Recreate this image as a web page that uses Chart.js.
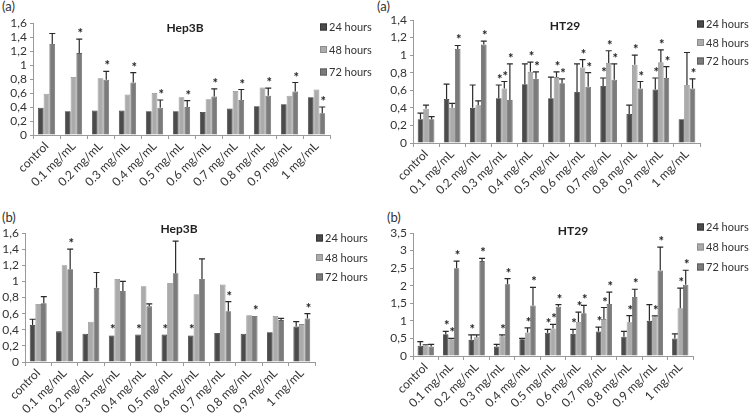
<!DOCTYPE html>
<html>
<head>
<meta charset="utf-8">
<script src="https://cdn.jsdelivr.net/npm/chart.js@4.4.1/dist/chart.umd.min.js"></script>
<style>
  body { margin: 0; background: #fff; width: 751px; height: 413px; position: relative; overflow: hidden; }
  canvas { position: absolute; }
  .tag { position: absolute; font: 13px "Lato", sans-serif; color: #333; line-height: 13px; }
</style>
</head>
<body>
<div class="tag" style="left:2px;top:0px">(a)</div>
<div class="tag" style="left:377px;top:0px">(a)</div>
<div class="tag" style="left:2px;top:211px">(b)</div>
<div class="tag" style="left:387px;top:211px">(b)</div>
<canvas id="hepA" width="375" height="200" style="left:0;top:0"></canvas>
<canvas id="htA" width="376" height="200" style="left:375px;top:0"></canvas>
<canvas id="hepB" width="375" height="213" style="left:0;top:200px"></canvas>
<canvas id="htB" width="376" height="213" style="left:375px;top:200px"></canvas>
<script>
// categories / legend
const categories = ["control", "0.1 mg/mL", "0.2 mg/mL", "0.3 mg/mL", "0.4 mg/mL", "0.5 mg/mL",
  "0.6 mg/mL", "0.7 mg/mL", "0.8 mg/mL", "0.9 mg/mL", "1 mg/mL"];
const seriesNames = ["24 hours", "48 hours", "72 hours"];

// tick labels
const hepTicks = ["0", "0,2", "0,4", "0,6", "0,8", "1", "1,2", "1,4", "1,6"];
const htATicks = ["0", "0,2", "0,4", "0,6", "0,8", "1", "1,2", "1,4"];
const htBTicks = ["0", "0,5", "1", "1,5", "2", "2,5", "3", "3,5"];

// (a) Hep3B
const hepA24 = [0.39, 0.34, 0.35, 0.35, 0.34, 0.34, 0.33, 0.38, 0.41, 0.44, 0.54];
const hepA48 = [0.59, 0.83, 0.81, 0.58, 0.60, 0.54, 0.51, 0.63, 0.68, 0.56, 0.65];
const hepA72 = [1.30, 1.17, 0.79, 0.75, 0.39, 0.40, 0.55, 0.50, 0.56, 0.62, 0.31];
const hepA72err = [0.15, 0.20, 0.12, 0.14, 0.11, 0.09, 0.11, 0.15, 0.11, 0.13, 0.09];
const hepA72star = [0, 1, 1, 1, 1, 1, 1, 1, 1, 1, 1];

// (a) HT29
const htA24 = [0.27, 0.50, 0.40, 0.51, 0.67, 0.51, 0.58, 0.65, 0.33, 0.61, 0.27];
const htA24err = [0.07, 0.17, 0.26, 0.15, 0.23, 0.24, 0.32, 0.09, 0.10, 0.13, null];
const htA48 = [0.39, 0.40, 0.43, 0.62, 0.81, 0.75, 0.86, 0.91, 0.89, 0.92, 0.66];
const htA48err = [0.04, 0.05, 0.05, 0.08, 0.11, 0.06, 0.09, 0.14, 0.11, 0.14, 0.37];
const htA72 = [0.27, 1.07, 1.12, 0.49, 0.73, 0.68, 0.64, 0.72, 0.62, 0.74, 0.62];
const htA72err = [0.03, 0.04, 0.04, 0.41, 0.08, 0.05, 0.16, 0.18, 0.08, 0.13, 0.11];
const htA24star = [0, 0, 0, 1, 0, 0, 0, 1, 0, 1, 0];
const htA48star = [0, 0, 0, 1, 1, 1, 1, 1, 1, 1, 0];
const htA72star = [0, 1, 1, 1, 1, 1, 1, 1, 1, 1, 1];

// (b) Hep3B
const hepB24 = [0.46, 0.38, 0.35, 0.33, 0.34, 0.34, 0.33, 0.36, 0.35, 0.37, 0.44];
const hepB24err = [0.07, null, null, null, null, null, null, null, null, null, 0.06];
const hepB48 = [0.72, 1.20, 0.50, 1.03, 0.94, 0.98, 0.84, 0.96, 0.58, 0.57, 0.47];
const hepB72 = [0.73, 1.15, 0.92, 0.88, 0.69, 1.10, 1.03, 0.63, 0.57, 0.52, 0.54];
const hepB72err = [0.08, 0.25, 0.19, 0.12, 0.03, 0.40, 0.25, 0.12, null, 0.02, 0.06];
const hepB24star = [0, 0, 0, 1, 1, 1, 1, 0, 0, 0, 0];
const hepB72star = [0, 1, 0, 0, 0, 0, 0, 1, 1, 0, 1];

// (b) HT29
const htB24 = [0.29, 0.62, 0.46, 0.27, 0.48, 0.66, 0.63, 0.70, 0.55, 1.00, 0.50];
const htB24err = [0.12, 0.08, 0.14, 0.06, 0.02, 0.10, 0.13, 0.12, 0.15, 0.46, 0.13];
const htB48 = [0.30, 0.48, 0.53, 0.56, 0.67, 0.78, 0.97, 1.05, 0.96, 1.12, 1.36];
const htB48err = [0.02, 0.02, 0.07, 0.04, 0.13, 0.12, 0.28, 0.33, 0.19, 0.02, 0.57];
const htB72 = [0.27, 2.50, 2.70, 2.04, 1.44, 1.40, 1.22, 1.48, 1.68, 2.43, 2.03];
const htB72err = [0.06, 0.20, 0.08, 0.16, 0.51, 0.06, 0.22, 0.34, 0.22, 0.67, 0.41];
const htB24star = [0, 1, 1, 0, 0, 1, 1, 1, 0, 0, 0];
const htB48star = [0, 1, 0, 1, 1, 1, 1, 1, 1, 1, 1];
const htB72star = [0, 1, 1, 1, 1, 1, 1, 1, 1, 1, 1];

const fills = ["#4b4b4b", "#ababab", "#7b7b7b"];
const edges = ["#353535", "#8e8e8e", "#5e5e5e"];
const FONT = "Lato, 'Open Sans', sans-serif";

// error bars + asterisks + legend + title, all drawn on the canvas
const extras = {
  id: "extras",
  afterDatasetsDraw(chart, args, opts) {
    const ctx = chart.ctx;
    const y = chart.scales.y;
    ctx.save();
    chart.data.datasets.forEach((ds, i) => {
      const meta = chart.getDatasetMeta(i);
      meta.data.forEach((bar, j) => {
        let top = bar.y;
        if (ds.err && ds.err[j] != null) {
          top = y.getPixelForValue(ds.data[j] + ds.err[j]);
          ctx.strokeStyle = "#2a2a2a";
          ctx.lineWidth = 1.2;
          ctx.beginPath();
          ctx.moveTo(bar.x, bar.y);
          ctx.lineTo(bar.x, top);
          ctx.moveTo(bar.x - 3, top);
          ctx.lineTo(bar.x + 3, top);
          ctx.stroke();
        }
        if (ds.star && ds.star[j]) {
          ctx.fillStyle = "#222";
          ctx.font = "bold 13px " + FONT;
          ctx.textAlign = "center";
          ctx.textBaseline = "alphabetic";
          ctx.fillText("*", bar.x + 1, top - 1);
        }
      });
    });
    // title
    ctx.fillStyle = "#222";
    ctx.font = "bold 12px " + FONT;
    ctx.textAlign = "center";
    ctx.textBaseline = "middle";
    ctx.fillText(opts.title, opts.tx, opts.ty);
    // legend
    ctx.font = "11px " + FONT;
    ctx.textAlign = "left";
    chart.data.datasets.forEach((ds, i) => {
      const cy = opts.ly + i * opts.gap;
      ctx.fillStyle = ds.backgroundColor;
      ctx.fillRect(opts.lx, cy - 3.5, 7, 7);
      ctx.strokeStyle = ds.borderColor;
      ctx.lineWidth = 1;
      ctx.strokeRect(opts.lx + 0.5, cy - 3, 6, 6);
      ctx.fillStyle = "#333";
      ctx.fillText(ds.label, opts.lx + 9, cy + 0.5);
    });
    ctx.restore();
  }
};

function panel(id, p) {
  const canvas = document.getElementById(id);
  const W = canvas.width, H = canvas.height;
  const datasets = p.values.map((vals, i) => ({
    label: seriesNames[i],
    data: vals,
    err: p.errs[i],
    star: p.stars[i],
    backgroundColor: fills[i],
    borderColor: edges[i],
    borderWidth: 0.8,
    categoryPercentage: 0.64,
    barPercentage: 1.0
  }));
  return new Chart(canvas, {
    type: "bar",
    data: { labels: categories, datasets },
    options: {
      responsive: false,
      animation: false,
      layout: { padding: { left: 0, right: W - p.area.right, top: p.area.top, bottom: 0 } },
      plugins: {
        legend: { display: false },
        tooltip: { enabled: false },
        extras: { title: p.title, tx: p.tx, ty: p.ty, lx: p.lx, ly: p.ly, gap: p.gap }
      },
      scales: {
        x: {
          afterFit: s => { s.height = H - p.area.bottom; },
          grid: { display: true, drawOnChartArea: false, drawTicks: true, tickLength: 4, color: "#9a9a9a", offset: true },
          border: { color: "#9a9a9a" },
          ticks: { autoSkip: false, minRotation: 45, maxRotation: 45, padding: 0, color: "#333", font: { family: FONT, size: 12 } }
        },
        y: {
          min: 0, max: p.max,
          afterFit: s => { s.width = p.area.left; },
          grid: { display: true, drawOnChartArea: false, drawTicks: true, tickLength: 3, color: "#9a9a9a" },
          border: { color: "#9a9a9a" },
          ticks: { stepSize: p.step, autoSkip: false, padding: 3, color: "#333", font: { family: FONT, size: 12 },
            callback: (v, i) => p.ticks[i] }
        }
      }
    },
    plugins: [extras]
  });
}

panel("hepA", {
  values: [hepA24, hepA48, hepA72],
  errs: [null, null, hepA72err],
  stars: [null, null, hepA72star],
  max: 1.6, step: 0.2, ticks: hepTicks,
  area: { left: 33, right: 330, top: 23, bottom: 135 },
  title: "Hep3B", tx: 185, ty: 28, lx: 320, ly: 27, gap: 22.5
});
panel("htA", {
  values: [htA24, htA48, htA72],
  errs: [htA24err, htA48err, htA72err],
  stars: [htA24star, htA48star, htA72star],
  max: 1.4, step: 0.2, ticks: htATicks,
  area: { left: 38, right: 325, top: 20, bottom: 143 },
  title: "HT29", tx: 190, ty: 26, lx: 322, ly: 24, gap: 18.5
});
panel("hepB", {
  values: [hepB24, hepB48, hepB72],
  errs: [hepB24err, null, hepB72err],
  stars: [hepB24star, null, hepB72star],
  max: 1.6, step: 0.2, ticks: hepTicks,
  area: { left: 25, right: 315, top: 33, bottom: 162 },
  title: "Hep3B", tx: 179, ty: 29, lx: 316, ly: 38, gap: 19.5
});
panel("htB", {
  values: [htB24, htB48, htB72],
  errs: [htB24err, htB48err, htB72err],
  stars: [htB24star, htB48star, htB72star],
  max: 3.5, step: 0.5, ticks: htBTicks,
  area: { left: 38, right: 318, top: 33, bottom: 156 },
  title: "HT29", tx: 198, ty: 31, lx: 322, ly: 27, gap: 20
});
</script>
</body>
</html>
